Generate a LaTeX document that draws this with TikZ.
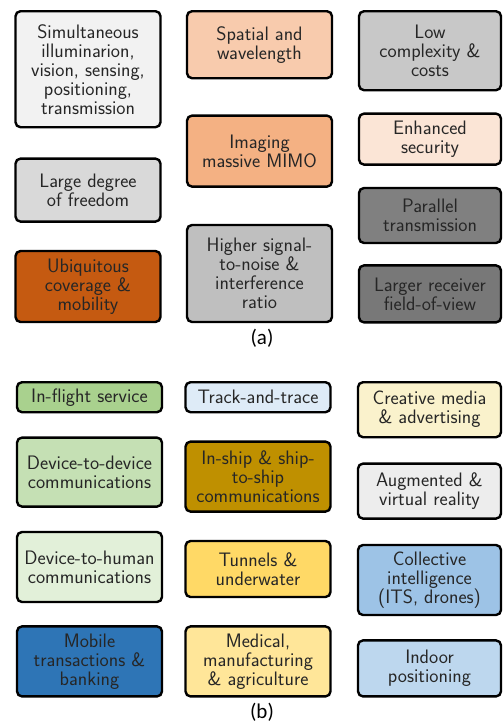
\documentclass[tikz,border=0pt]{standalone}
\usepackage{fontspec}
\newfontfamily\capfont{Carlito}
\usetikzlibrary{positioning}

\definecolor{grayA}{HTML}{F2F2F2}
\definecolor{grayB}{HTML}{D9D9D9}
\definecolor{grayC}{HTML}{C8C8C8}
\definecolor{grayD}{HTML}{BFBFBF}
\definecolor{grayE}{HTML}{808080}
\definecolor{grayF}{HTML}{787878}
\definecolor{grayG}{HTML}{EDEDED}
\definecolor{orangeA}{HTML}{F8CBAD}
\definecolor{orangeB}{HTML}{F4B183}
\definecolor{orangeC}{HTML}{FBE5D6}
\definecolor{orangeD}{HTML}{C55A11}
\definecolor{greenA}{HTML}{A9D18E}
\definecolor{greenB}{HTML}{C5E0B4}
\definecolor{greenC}{HTML}{E2F0D9}
\definecolor{blueA}{HTML}{DEEBF7}
\definecolor{blueB}{HTML}{9DC3E6}
\definecolor{blueC}{HTML}{2E75B6}
\definecolor{blueD}{HTML}{BDD7EE}
\definecolor{goldA}{HTML}{BF9000}
\definecolor{goldB}{HTML}{FFD966}
\definecolor{goldC}{HTML}{FFE699}
\definecolor{goldD}{HTML}{FAF2CC}

\begin{document}
\begin{tikzpicture}[x=1pt,y=1pt]
  \tikzset{cell/.style={draw=black, line width=2.4pt, rounded corners=5pt,
      minimum width=145pt, align=center, inner sep=2pt, text=black!85,
      font=\fontsize{19.5}{19}\selectfont\sffamily},
    caption/.style={font=\capfont\fontsize{21}{23}\selectfont}}
  \useasboundingbox (0,0) rectangle (503,-724);

  % (a) benefits
  \node[cell,fill=grayA,minimum height=116pt,anchor=north] (a_l1) at (88,-10)
    {Simultaneous\\illuminarion,\\vision, sensing,\\positioning,\\transmission};
  \node[cell,fill=grayB,minimum height=63pt]  (a_l2) [below=29pt of a_l1] {Large degree\\of freedom};
  \node[cell,fill=orangeD,minimum height=71pt] (a_l3) [below=27pt of a_l2] {Ubiquitous\\coverage \&\\mobility};

  \node[cell,fill=orangeA,minimum height=67pt,anchor=north] (a_m1) at (259.5,-10) {Spatial and\\wavelength};
  \node[cell,fill=orangeB,minimum height=71pt] (a_m2) [below=35pt of a_m1] {Imaging\\massive MIMO};
  \node[cell,fill=grayD,minimum height=97pt]   (a_m3) [below=36pt of a_m2] {Higher signal-\\to-noise \&\\interference\\ratio};

  \node[cell,fill=grayC,minimum height=79pt,minimum width=142pt,anchor=north] (a_r1) at (430,-10) {Low\\complexity \&\\costs};
  \node[cell,fill=orangeC,minimum height=51pt,minimum width=142pt] (a_r2) [below=21pt of a_r1] {Enhanced\\security};
  \node[cell,fill=grayE,minimum height=55pt,minimum width=142pt]   (a_r3) [below=21pt of a_r2] {Parallel\\transmission};
  \node[cell,fill=grayF,minimum height=57pt,minimum width=142pt]   (a_r4) [below=20pt of a_r3] {Larger receiver\\field-of-view};

  \node[caption] (cap_a) at (262,-338) {(a)};

  % (b) applications
  \node[cell,fill=greenA,minimum height=30pt,anchor=north] (b_l1) at (89.5,-381) {In-flight service};
  \node[cell,fill=greenB,minimum height=69pt] (b_l2) [below=23pt of b_l1] {Device-to-device\\communications};
  \node[cell,fill=greenC,minimum height=70pt] (b_l3) [below=23pt of b_l2] {Device-to-human\\communications};
  \node[cell,fill=blueC,minimum height=70pt]  (b_l4) [below=22pt of b_l3] {Mobile\\transactions \&\\banking};

  \node[cell,fill=blueA,minimum height=30pt,anchor=north] (b_m1) at (258,-381) {Track-and-trace};
  \node[cell,fill=goldA,minimum height=70pt] (b_m2) [below=27pt of b_m1] {In-ship \& ship-\\to-ship\\communications};
  \node[cell,fill=goldB,minimum height=56pt] (b_m3) [below=27pt of b_m2] {Tunnels \&\\underwater};
  \node[cell,fill=goldC,minimum height=70pt] (b_m4) [below=27pt of b_m3] {Medical,\\manufacturing\\\& agriculture};

  \node[cell,fill=goldD,minimum height=55pt,minimum width=143pt,anchor=north] (b_r1) at (429.5,-381) {Creative media\\\& advertising};
  \node[cell,fill=grayG,minimum height=55pt,minimum width=143pt] (b_r2) [below=24pt of b_r1] {Augmented \&\\virtual reality};
  \node[cell,fill=blueB,minimum height=70pt,minimum width=143pt] (b_r3) [below=24pt of b_r2] {Collective\\intelligence\\(ITS, drones)};
  \node[cell,fill=blueD,minimum height=56pt,minimum width=143pt] (b_r4) [below=23pt of b_r3] {Indoor\\positioning};

  \node[caption] (cap_b) at (262,-712) {(b)};
\end{tikzpicture}
\end{document}
